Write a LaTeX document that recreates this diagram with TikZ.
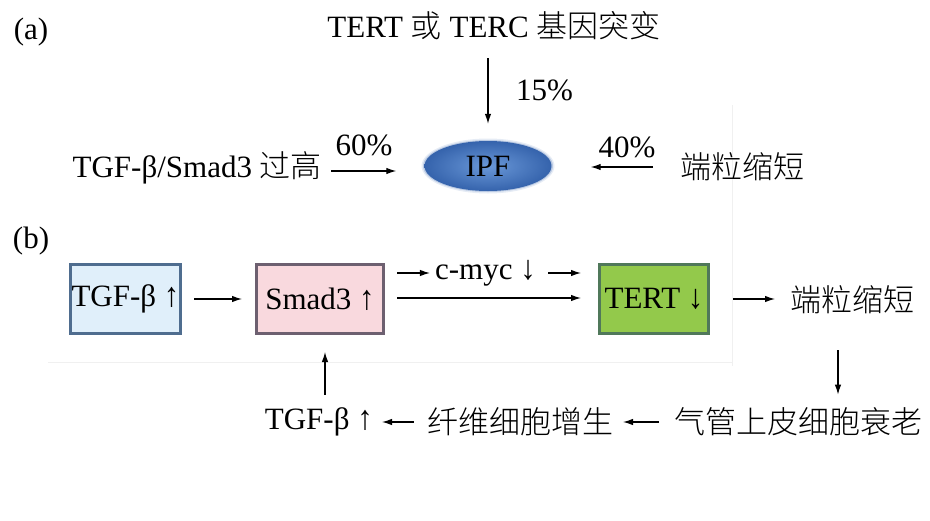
\documentclass[tikz,border=0pt]{standalone}
\usepackage{fontspec}
\setmainfont{Liberation Serif}
\newfontfamily\cjk{Noto Sans CJK SC}[UprightFont={* Light}]
\usetikzlibrary{arrows.meta,shapes.geometric}
\definecolor{tgfill}{HTML}{E0EFFA}
\definecolor{tgdraw}{HTML}{4F6D8F}
\definecolor{smfill}{HTML}{F9D9DE}
\definecolor{smdraw}{HTML}{6D6070}
\definecolor{tefill}{HTML}{93C94B}
\definecolor{tedraw}{HTML}{50785A}
\definecolor{ipfin}{HTML}{6A98D8}
\definecolor{ipfout}{HTML}{3563AC}
\newcommand\myup{\scalebox{1}[1.1]{↑}}
\newcommand\mydown{\scalebox{1}[1.1]{↓}}
\begin{document}
\begin{tikzpicture}[x=1pt,y=-1pt,
  lbl/.style={inner sep=0pt, font=\fontsize{31}{36}\selectfont},
  arr/.style={line width=1.2pt, -{Latex[length=10pt,width=6.5pt]}},
  box/.style={lbl, draw, line width=3pt, minimum height=69pt},
  faint/.style={draw=gray!12, line width=1pt}]
\useasboundingbox (0,0) rectangle (930,520);
% faint background traces
\draw[faint] (732,105) -- (732,366);
\draw[faint] (48,362) -- (732,362);
% ---------- (a) ----------
\node[lbl] (la) at (31,32) {(a)};
\node[lbl] (title) at (494,26) {TERT {\cjk 或} TERC {\cjk 基因突变}};
\fill[ipfout, opacity=0.12] (488,166) ellipse [x radius=66.5pt, y radius=27.5pt];
\fill[ipfout, opacity=0.25] (488,166) ellipse [x radius=65pt, y radius=26pt];
\node[ellipse, inner color=ipfin, outer color=ipfout, minimum width=127pt, minimum height=50pt, inner sep=0pt, font=\fontsize{31}{36}\selectfont] (ipf) at (488,166) {IPF};
\node[lbl, anchor=west] (p15) at (516,90) {15\%};
\node[lbl, anchor=east] (lt) at (322,168) {TGF-β/Smad3 {\cjk 过高}};
\node[lbl] (p60) at (364,145) {60\%};
\node[lbl] (p40) at (627,147) {40\%};
\node[lbl, anchor=west] (rt) at (680,167) {\cjk 端粒缩短};
\draw[arr, shorten <=18pt, shorten >=17pt] (title.south -| ipf.north) -- (ipf.north);
\draw[arr, shorten <=9pt, shorten >=28pt] (lt.east |- 0,171) -- (ipf.west |- 0,171);
\draw[arr, shorten <=27pt, shorten >=39pt] (rt.west |- 0,167) -- (ipf.east |- 0,167);
% ---------- (b) ----------
\node[lbl] (lb) at (31,241) {(b)};
\node[box, fill=tgfill, draw=tgdraw, minimum width=110pt] (b1) at (125.5,299) {TGF-β \myup};
\node[box, fill=smfill, draw=smdraw, minimum width=127pt] (b2) at (320,299) {Smad3 \myup};
\node[box, fill=tefill, draw=tedraw, minimum width=109pt] (b3) at (654,299) {TERT \mydown};
\node[lbl] (cm) at (485.5,273) {c-myc \mydown};
\node[lbl, anchor=west] (rt2) at (790,300) {\cjk 端粒缩短};
\node[lbl, anchor=west] (r3) at (674,422) {\cjk 气管上皮细胞衰老};
\node[lbl, anchor=east] (r2) at (614,422) {\cjk 纤维细胞增生};
\node[lbl, anchor=east] (r1) at (373,422) {TGF-β \myup};
\draw[arr, shorten <=12pt, shorten >=13pt] (b1.east) -- (b2.west);
\draw[arr, shorten <=12pt, shorten >=17pt] (b2.east |- 0,298) -- (b3.west |- 0,298);
\draw[arr, shorten <=12pt, shorten >=5pt] (b2.east |- cm.west) -- (cm.west);
\draw[arr, shorten <=12pt, shorten >=17pt] (cm.east) -- (b3.west |- cm.east);
\draw[arr, shorten <=23pt, shorten >=15pt] (b3.east) -- (rt2.west |- b3.east);
\draw[arr, shorten <=36pt, shorten >=13pt] (rt2.south -| 838,0) -- (r3.north -| 838,0);
\draw[arr, shorten <=15pt, shorten >=9pt] (r3.west) -- (r2.east);
\draw[arr, shorten <=14pt, shorten >=9pt] (r2.west) -- (r1.east);
\draw[arr, shorten <=13pt, shorten >=17pt] (r1.north -| 325,0) -- (b2.south -| 325,0);
\end{tikzpicture}
\end{document}
